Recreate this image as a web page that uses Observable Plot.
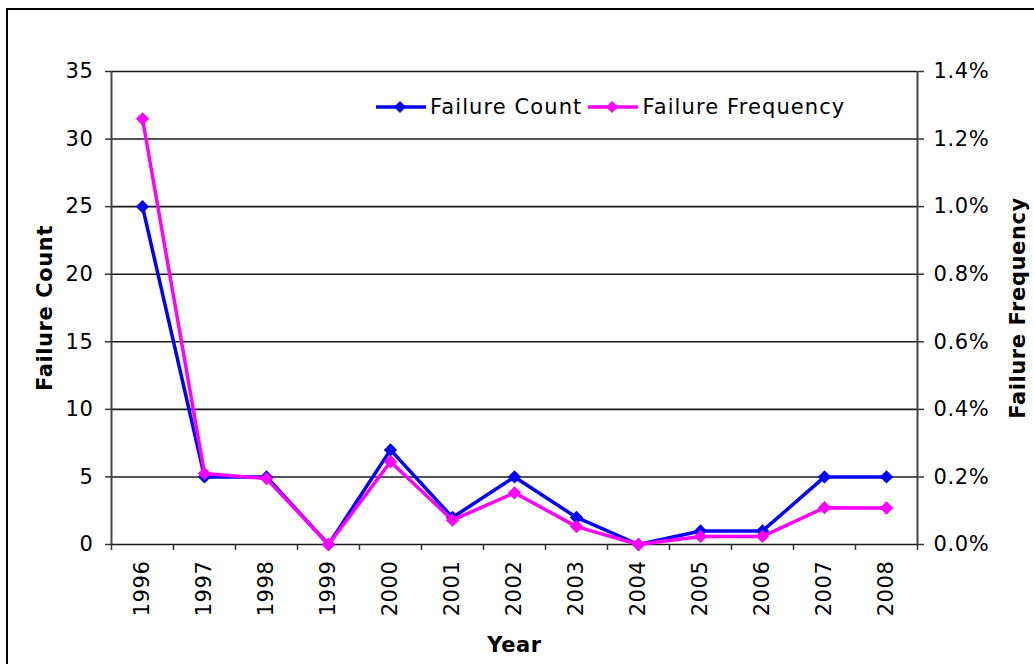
<!DOCTYPE html>
<html>
<head>
<meta charset="utf-8">
<script src="https://cdn.jsdelivr.net/npm/d3@7"></script>
<script src="https://cdn.jsdelivr.net/npm/@observablehq/plot@0.6"></script>
<style>
  html, body { margin: 0; padding: 0; background: #fff; overflow: hidden; }
  #wrap { position: relative; width: 1034px; height: 664px; overflow: hidden; }
  #border { position: absolute; left: 6px; top: 8px; width: 1100px; height: 700px; border: 2px solid #000; box-sizing: border-box; pointer-events: none; }
  #chart { position: absolute; left: 0; top: 0; }
  #legend { position: absolute; left: 376px; top: 95px; display: flex; align-items: center; font-family: "DejaVu Sans", Verdana, sans-serif; font-size: 21px; letter-spacing: 1.1px; color: #000; }
  #legend .item { display: flex; align-items: center; margin-right: 6px; }
  #legend svg { margin-right: 4px; }
</style>
</head>
<body>
<div id="wrap">
  <div id="chart"></div>
  <div id="legend"></div>
  <div id="border"></div>
</div>
<script>
const years = [1996, 1997, 1998, 1999, 2000, 2001, 2002, 2003, 2004, 2005, 2006, 2007, 2008];
const failureCount = [25, 5, 5, 0, 7, 2, 5, 2, 0, 1, 1, 5, 5];
const failureFrequency = [1.26, 0.21, 0.195, 0, 0.245, 0.072, 0.153, 0.053, 0, 0.024, 0.024, 0.109, 0.108]; // percent
const countTicks = [0, 5, 10, 15, 20, 25, 30, 35];
const freqTicks = [0, 0.2, 0.4, 0.6, 0.8, 1.0, 1.2, 1.4];
const seriesNames = ["Failure Count", "Failure Frequency"];
const seriesColors = ["#0000ff", "#ff00ff"];
const axisTitles = { left: "Failure Count", right: "Failure Frequency", bottom: "Year" };

const k = 35 / 1.4; // count units per percent
const data = years.map((y, i) => ({ year: y, count: failureCount[i], freq: failureFrequency[i] * k }));
const bounds = years.map(y => y - 0.5).concat([years[years.length - 1] + 0.5]);

const font = '"DejaVu Sans", Verdana, sans-serif';

const chart = Plot.plot({
  width: 1034,
  height: 664,
  marginLeft: 111,
  marginRight: 117,
  marginTop: 71,
  marginBottom: 120,
  style: { fontSize: "21px", fontFamily: font, color: "#000", background: "transparent", letterSpacing: "0.6px" },
  x: { domain: [bounds[0], bounds[bounds.length - 1]] },
  y: { domain: [0, 35] },
  marks: [
    Plot.ruleY(countTicks, { stroke: "#1a1a1a", strokeWidth: 1.6 }),
    Plot.ruleX([bounds[0], bounds[bounds.length - 1]], { stroke: "#444", strokeWidth: 2 }),
    Plot.axisY({ anchor: "left", ticks: countTicks, tickSize: 6, tickPadding: 12, tickFormat: d => String(d), label: null, stroke: "#333", strokeWidth: 1.5 }),
    Plot.axisY({ anchor: "right", ticks: freqTicks.map(f => f * k), tickSize: 6, tickPadding: 10, tickFormat: d => (d / k).toFixed(1) + "%", label: null, stroke: "#333", strokeWidth: 1.5 }),
    Plot.axisX({ ticks: bounds, tickSize: 6, tickFormat: () => "", label: null, stroke: "#333", strokeWidth: 1.5 }),
    Plot.axisX({ ticks: years, tickSize: 0, tickPadding: 16, tickRotate: -90, tickFormat: d => String(d), label: null }),
    Plot.line(data, { x: "year", y: "count", stroke: seriesColors[0], strokeWidth: 3.5 }),
    Plot.dot(data, { x: "year", y: "count", symbol: "diamond2", fill: seriesColors[0], stroke: "none", r: 6 }),
    Plot.line(data, { x: "year", y: "freq", stroke: seriesColors[1], strokeWidth: 3.5 }),
    Plot.dot(data, { x: "year", y: "freq", symbol: "diamond2", fill: seriesColors[1], stroke: "none", r: 6 }),
    Plot.text([axisTitles.left], { frameAnchor: "left", text: d => d, rotate: -90, dx: -66, textAnchor: "middle", lineAnchor: "middle", fontWeight: "bold", fill: "#000" }),
    Plot.text([axisTitles.right], { frameAnchor: "right", text: d => d, rotate: -90, dx: 101, textAnchor: "middle", lineAnchor: "middle", fontWeight: "bold", fill: "#000" }),
    Plot.text([axisTitles.bottom], { frameAnchor: "bottom", text: d => d, dy: 101, textAnchor: "middle", lineAnchor: "middle", fontWeight: "bold", fill: "#000" })
  ]
});
document.getElementById("chart").appendChild(chart);

const legend = document.getElementById("legend");
seriesNames.forEach((name, i) => {
  const item = document.createElement("div");
  item.className = "item";
  item.innerHTML = `<svg width="50" height="24"><line x1="0" y1="12" x2="50" y2="12" stroke="${seriesColors[i]}" stroke-width="3.5"/><path d="M24,6L30,12L24,18L18,12Z" fill="${seriesColors[i]}"/></svg><span>${name}</span>`;
  legend.appendChild(item);
});
</script>
</body>
</html>
